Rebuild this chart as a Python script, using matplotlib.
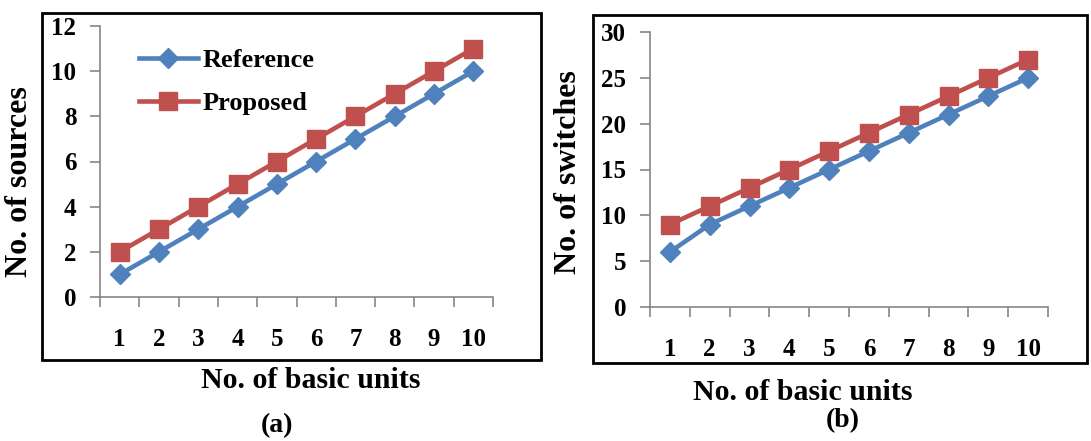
import matplotlib
matplotlib.use("Agg")
import matplotlib.pyplot as plt
from matplotlib.patches import Rectangle
import numpy as np

# datos
unidades = [1, 2, 3, 4, 5, 6, 7, 8, 9, 10]
fuentesRef = [1, 2, 3, 4, 5, 6, 7, 8, 9, 10]
fuentesProp = [2, 3, 4, 5, 6, 7, 8, 9, 10, 11]
switchesRef = [6, 9, 11, 13, 15, 17, 19, 21, 23, 25]
switchesProp = [9, 11, 13, 15, 17, 19, 21, 23, 25, 27]

W, H = 1091, 441
azul = '#4F81BD'
rojo = '#C0504D'
gris = '#868686'
fuente = 'Liberation Serif'

plt.rcParams['font.family'] = fuente
plt.rcParams['font.weight'] = 'bold'

fig = plt.figure(figsize=(W / 100, H / 100), dpi=100)


def caja(x0, y0, x1, y1):
    # rectangulo en pixeles (y desde arriba)
    return [x0 / W, 1 - y1 / H, (x1 - x0) / W, (y1 - y0) / H]


def marco(x0, y0, x1, y1):
    r = caja(x0, y0, x1, y1)
    fig.patches.append(Rectangle((r[0], r[1]), r[2], r[3],
                                 transform=fig.transFigure, fill=False,
                                 ec='black', lw=2))


def texto(x, y, s, **kw):
    fig.text(x / W, 1 - y / H, s, ha='center', va='center',
             fontweight='bold', family=fuente, **kw)


def panel(rect, yRef, yProp, ymax, ystep):
    ax = fig.add_axes(rect)
    ax.plot(unidades, yRef, color=azul, lw=3.3, marker='D', ms=10,
            label='Reference', zorder=3)
    ax.plot(unidades, yProp, color=rojo, lw=3.3, marker='s', ms=13,
            label='Proposed', zorder=3)
    ax.set_xlim(0.5, 10.5)
    ax.set_ylim(0, ymax)
    ax.set_yticks(np.arange(0, ymax + 1, ystep))
    ax.set_xticks(unidades)
    ax.set_xticks(np.arange(0.5, 11, 1), minor=True)
    ax.tick_params(axis='x', which='major', length=0, pad=22, labelsize=18)
    ax.tick_params(axis='x', which='minor', length=7, width=1.2, color=gris,
                   direction='out')
    ax.tick_params(axis='y', length=7, width=1.2, color=gris, pad=10,
                   labelsize=18)
    for s in ['top', 'right']:
        ax.spines[s].set_visible(False)
    for s in ['left', 'bottom']:
        ax.spines[s].set_color(gris)
        ax.spines[s].set_linewidth(1.2)
    for t in ax.get_xticklabels() + ax.get_yticklabels():
        t.set_fontweight('bold')
    return ax


# marcos
marco(42, 13, 541, 360)
marco(593, 15, 1087, 363)

ax1 = panel(caja(100, 26, 493, 297), fuentesRef, fuentesProp, 12, 2)
leg = ax1.legend(loc='upper left', bbox_to_anchor=(0.04, 1.005), frameon=False,
                 handlelength=2.2, labelspacing=0.75, handletextpad=0.2,
                 prop={'family': fuente, 'weight': 'bold', 'size': 19})

ax2 = panel(caja(650, 32, 1048, 307), switchesRef, switchesProp, 30, 5)

texto(20, 182, 'No. of sources', rotation=90, fontsize=23)
texto(311, 380, 'No. of basic units', fontsize=21.5)
texto(277, 426, '(a)', fontsize=20)

texto(568, 172, 'No. of switches', rotation=90, fontsize=23)
texto(803, 392, 'No. of basic units', fontsize=21.5)
texto(843, 421, '(b)', fontsize=20)

fig.savefig('out.png', dpi=100)
